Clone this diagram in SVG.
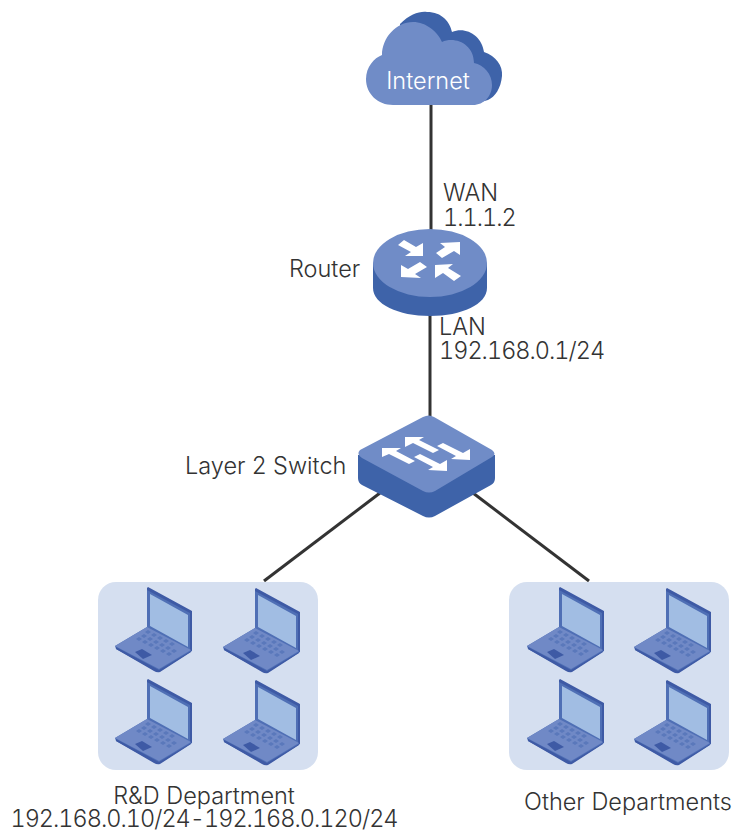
<svg xmlns="http://www.w3.org/2000/svg" xmlns:xlink="http://www.w3.org/1999/xlink" width="734" height="830" viewBox="0 0 734 830">
<style>
text{font-family:"Inter","Liberation Sans",sans-serif;font-size:23.5px;font-weight:300;fill:#333}
.num{font-variant-numeric:tabular-nums;letter-spacing:-1px}
.c{stroke:#333;stroke-width:3;fill:none}
.dark{fill:#3e63a9}.mid{fill:#708cc7}.white{fill:#fff}
.panel{fill:#d5dff0}
</style>
<defs>
<g id="laptop">
<path d="M15 66L47 47V8L92 32V71L60 91Q57 92 54 90L16 69Z" fill="#4f6fb5"/>
<path d="M47 8L48 7L92 31V71L90 70V33L47 10Z" fill="#3e5aa5"/>
<path d="M50 14L88 35V67L50 46Z" fill="#a1bde3"/>
<path d="M15 66L47 47L91 70L59 89Z" fill="#7089c6"/>
<path d="M16 67L59 90L91 71V72L60 92Q57 93 54 91L16 69Z" fill="#3e5aa5"/>
<path d="M35 72L42 69L52 75L43 79Z" fill="#3e5aa5"/>
<path d="M45 52l3-2 3 2-3 2zM51 55l3-2 3 2-3 2zM57 58l3-2 3 2-3 2zM63 61l3-2 3 2-3 2zM69 64l3-2 3 2-3 2zM41 56l3-2 3 2-3 2zM47 59l3-2 3 2-3 2zM53 62l3-2 3 2-3 2zM59 65l3-2 3 2-3 2zM65 68l3-2 3 2-3 2zM71 71l3-2 3 2-3 2zM36 59l3-2 3 2-3 2zM42 62l3-2 3 2-3 2zM48 65l3-2 3 2-3 2zM54 68l3-2 3 2-3 2zM60 71l3-2 3 2-3 2zM66 74l3-2 3 2-3 2z" fill="#5a78bb"/>
</g>
</defs>
<g id="connectors">
<path class="c" d="M431 105V230"/>
<path class="c" d="M430 315V418"/>
<path class="c" d="M380 493L264 581"/>
<path class="c" d="M473 493L589 581"/>
</g>
<g id="internet">
<path class="dark" d="M400 24C410 14 420 11 427 12C442 12 450 22 452 32C466 26 482 36 484 52C496 56 503 66 502 76C501 88 495 97 488 100L470 105H400Z"/>
<path class="mid" d="M393 105C378 105 366 94 366 79C366 67 374 58 382 55C382 38 396 22 413 22C426 22 438 32 442 42C455 36 474 44 474 63C484 65 492 74 492 85C492 96 484 105 473 105Z"/>
<text x="428" y="89" text-anchor="middle" style="fill:#fff">Internet</text>
</g>
<g id="router">
<path class="dark" d="M373 263V288C373 304 398 316 430 316C462 316 487 304 487 288V263Z"/>
<ellipse class="mid" cx="430" cy="263" rx="57" ry="34"/>
<path class="white" d="M398 245L404 240L416 247L423 243V256H405L411 252Z"/>
<path class="white" d="M436 253L445 247L440 243L460 242V255L454 251L442 258Z"/>
<path class="white" d="M401 265V277L421 278L415 274L427 267L420 262L408 269Z"/>
<path class="white" d="M435 265L453 264L448 268L461 276L454 281L443 273L435 278Z"/>
<text x="443" y="201">WAN</text>
<text class="num" x="443" y="226">1.1.1.2</text>
<text x="289" y="277">Router</text>
<text x="439" y="335">LAN</text>
<text class="num" x="439" y="359">192.168.0.1/24</text>
</g>
<g id="switch">
<path class="dark" d="M358 455V478Q358 483 362 485L423 516Q429 519 435 516L491 485Q495 483 495 478V455Z"/>
<path class="mid" d="M360 450L423 417Q429 414 434 417L492 450Q497 454 492 457L435 491Q429 494 423 491L362 458Q356 454 360 450Z"/>
<path class="white" d="M405 437L424 437L419 440L439 450L433 453L413 443L405 447Z"/>
<path class="white" d="M470 460L451 459L456 456L437 446L443 443L463 453L470 449Z"/>
<path class="white" d="M382 448L401 448L396 451L415 461L409 464L389 454L382 457Z"/>
<path class="white" d="M447 471L428 470L433 467L414 457L420 454L440 464L447 460Z"/>
<text x="185" y="474">Layer 2 Switch</text>
</g>
<g id="rd-department">
<rect class="panel" x="98" y="582" width="220" height="188" rx="18"/>
<use xlink:href="#laptop" href="#laptop" transform="translate(100,580)"/>
<use xlink:href="#laptop" href="#laptop" transform="translate(208,581)"/>
<use xlink:href="#laptop" href="#laptop" transform="translate(100,672)"/>
<use xlink:href="#laptop" href="#laptop" transform="translate(208,673)"/>
<text x="204" y="804" text-anchor="middle">R&amp;D Department</text>
<text class="num" x="204" y="827" text-anchor="middle">192.168.0.10/24-192.168.0.120/24</text>
</g>
<g id="other-departments">
<rect class="panel" x="509" y="582" width="220" height="188" rx="18"/>
<use xlink:href="#laptop" href="#laptop" transform="translate(512,580)"/>
<use xlink:href="#laptop" href="#laptop" transform="translate(619,581)"/>
<use xlink:href="#laptop" href="#laptop" transform="translate(512,672)"/>
<use xlink:href="#laptop" href="#laptop" transform="translate(619,673)"/>
<text x="628" y="810" text-anchor="middle">Other Departments</text>
</g>
</svg>
